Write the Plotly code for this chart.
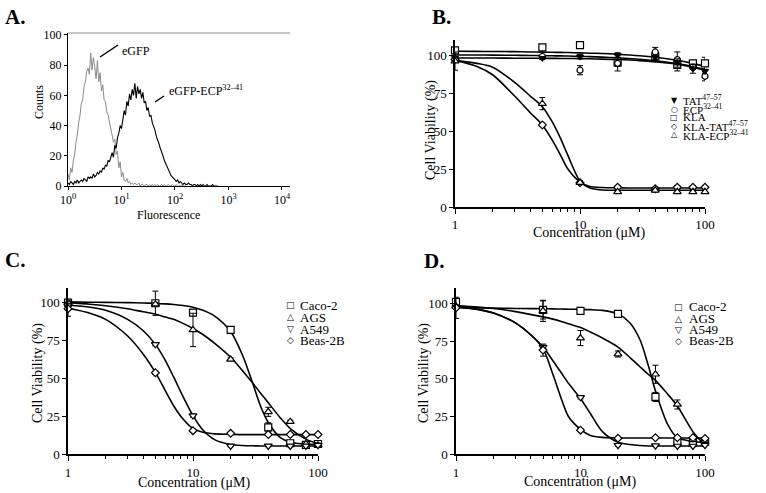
import plotly.graph_objects as go

W, H = 766, 493
def fx(x): return x / W
def fy(y): return 1 - y / H

SERIF = "Liberation Serif"
SYM = "DejaVu Sans"

# ---------------- Panel A : flow cytometry histograms ----------------
# counts per channel (channels evenly spaced on log10 scale, 40 per decade)
egfp_counts = [8, 4, 12, 9, 17, 21, 29, 34, 42, 47, 55, 57, 66, 69, 76, 78, 74, 88, 77, 85,
               79, 71, 83, 69, 75, 63, 67, 57, 56, 49, 47, 43, 38, 33, 29, 31, 21, 23, 12, 16,
               6, 9, 4, 3, 5, 2, 3, 1, 2, 1, 2, 1, 1, 2, 0, 1, 1, 0, 1, 1,
               0, 1, 0, 1, 0, 1, 0, 1, 0, 0, 1, 0, 1, 0, 0, 1, 0, 0, 1, 0,
               0, 1, 0, 0, 0, 1, 0, 0, 0]
ecp_counts = [2, 1, 3, 2, 1, 3, 2, 4, 2, 3, 4, 3, 5, 4, 3, 6, 5, 6, 5, 8,
              6, 7, 9, 8, 10, 9, 12, 11, 14, 13, 17, 16, 20, 22, 19, 27, 25, 32, 35, 40,
              38, 46, 50, 47, 56, 53, 61, 57, 64, 60, 68, 58, 66, 61, 64, 58, 62, 55, 56, 50,
              52, 46, 47, 42, 40, 37, 33, 31, 28, 25, 23, 20, 17, 15, 12, 11, 9, 7, 6, 5,
              4, 3, 4, 2, 3, 2, 1, 2, 1, 1, 2, 1, 1, 0, 1, 1, 0, 1, 0, 1,
              0, 1, 0, 0, 1, 0, 0, 0, 1, 0, 0, 0, 0]
egfp_channels = [10 ** (k / 40) for k in range(len(egfp_counts))]
ecp_channels = [10 ** (k / 40) for k in range(len(ecp_counts))]
a_xtickvals = [1, 10, 100, 1000, 10000]
a_xticktext = ["10<sup>0</sup>", "10<sup>1</sup>", "10<sup>2</sup>", "10<sup>3</sup>", "10<sup>4</sup>"]
a_ytickvals = [0, 20, 40, 60, 80, 100]

# ---------------- Panels B-D : viability ----------------
conc = [1, 5, 10, 20, 40, 60, 80, 100]
conc_tickvals = [1, 10, 100]
conc_minor = [2, 3, 4, 5, 6, 7, 8, 9, 20, 30, 40, 50, 60, 70, 80, 90]
viab_tickvals = [0, 25, 50, 75, 100]

# Panel B
B_tat = [98, 98, 99, 100, 98.5, 95.5, 91, 89.5]
B_tat_err = [1, 1, 1.5, 1.5, 1.5, 2, 3, 1.5]
B_ecp = [97, 99, 90, 94.5, 102, 97, 92, 86]
B_ecp_err = [1, 1, 3, 5, 3, 5, 1.5, 3]
B_kla = [103, 105, 106.5, 95, 99, 93.5, 94.5, 94.5]
B_kla_err = [1, 1, 1, 1, 1, 4, 1, 4]
B_klatat = [97, 54, 16, 13, 12, 13, 13, 13]
B_klatat_err = [1, 1, 1, 1, 1, 1, 1, 1]
B_klaecp = [96, 68, 16, 10, 11, 10, 10, 10]
B_klaecp_err = [6, 4, 1, 1, 1, 1, 1, 1]

fitx_B = [1, 1.5, 2, 3, 4, 5, 6, 7, 8, 10, 12, 15, 20, 30, 40, 60, 80, 100]
fitB_kla = [102.5, 102.4, 102.3, 102.2, 102.0, 101.9, 101.8, 101.7, 101.6, 101.4, 101.2, 101.0, 100.5, 99.5, 98.5, 96.5, 94.5, 92.5]
fitB_ecp = [100, 100, 99.9, 99.8, 99.7, 99.6, 99.5, 99.4, 99.3, 99.1, 98.9, 98.6, 98.2, 97.2, 96.2, 94.3, 92.3, 90.5]
fitB_tat = [98, 98, 98, 97.9, 97.9, 97.8, 97.8, 97.7, 97.7, 97.6, 97.5, 97.3, 97.0, 96.3, 95.5, 94.0, 92.0, 90.0]
fitB_klatat = [96.5, 92.5, 87, 73, 62, 54, 44, 34, 25, 16.5, 13.5, 12.8, 12.6, 12.5, 12.5, 12.5, 12.5, 12.5]
fitB_klaecp = [96.5, 94.5, 92, 82, 73, 66, 56, 45, 34, 17, 12.5, 11.2, 11, 11, 11, 11, 11, 11]

# Panel C
C_caco = [100, 99.6, 93.4, 82, 17.8, 7.3, 6.2, 6.8]
C_caco_err = [0.5, 8, 2, 1, 3, 1, 0.5, 0.5]
C_ags = [100, 99, 82, 62.6, 28, 21.5, 6.8, 6]
C_ags_err = [1, 1, 11, 1, 3, 1, 0.5, 0.5]
C_a549 = [98, 72.5, 25.5, 5.5, 5.5, 5.5, 5.5, 6]
C_a549_err = [1, 1, 1, 0.5, 0.5, 0.5, 0.5, 0.5]
C_beas = [96, 53.8, 15.6, 13.8, 13, 13, 13, 13]
C_beas_err = [5, 1, 1, 0.5, 0.5, 0.5, 0.5, 0.5]

fitx_CD = [1, 1.5, 2, 3, 4, 5, 6, 7, 8, 10, 12, 15, 20, 25, 30, 35, 40, 50, 60, 80, 100]
fitC_caco = [100.5, 100.3, 100.2, 100, 99.8, 99.5, 99.2, 98.8, 98.3, 97, 95, 91, 81, 65, 47, 31, 21, 11, 8, 6.7, 6.5]
fitC_ags = [100, 99, 98, 96, 94, 92.5, 90.5, 89, 87, 83, 79, 73, 64, 55, 47, 40, 34, 24, 17, 10, 7]
fitC_a549 = [98.5, 97, 95, 89, 81.5, 72.5, 62, 51, 41, 25.5, 16, 9.5, 6.5, 5.8, 5.6, 5.5, 5.5, 5.5, 5.5, 5.5, 5.5]
fitC_beas = [96.5, 93, 89, 78, 66, 54, 42, 32, 25, 17, 14.5, 13.5, 13.2, 13, 13, 13, 13, 13, 13, 13, 13]

# Panel D
D_caco = [101, 95.6, 95, 93, 38, 8.4, 7.7, 8.4]
D_caco_err = [2, 6, 1, 1, 3, 1, 1, 1]
D_ags = [98, 95, 77, 66.4, 53, 33, 9.5, 9]
D_ags_err = [1, 7, 5, 2, 6, 3, 1, 1]
D_a549 = [97, 71, 37.7, 6, 5.7, 5.5, 5.5, 6]
D_a549_err = [1, 1, 1, 0.5, 0.5, 0.5, 0.5, 0.5]
D_beas = [97, 69, 16, 10.6, 11, 11, 11, 10.5]
D_beas_err = [7, 4, 1, 0.5, 0.5, 0.5, 0.5, 0.5]

fitD_caco = [97.5, 97, 96.8, 96.6, 96.5, 96.4, 96.3, 96.2, 96.1, 96, 95.8, 95.3, 93, 87, 76, 59, 42, 20, 11, 8.5, 8]
fitD_ags = [98.5, 97.5, 96.5, 94.5, 92.5, 91, 89.5, 88, 86.5, 84, 81, 77, 71, 64, 58, 53, 49, 40, 32, 15, 6]
fitD_a549 = [97.5, 96, 93.5, 87, 79, 71, 62, 54, 47, 37, 27, 15, 8, 6.5, 5.8, 5.5, 5.5, 5.5, 5.5, 5.5, 5.5]
fitD_beas = [98, 96, 93.5, 87, 79, 70, 53, 37, 25, 16.5, 12.5, 11.2, 10.9, 10.8, 10.8, 10.8, 10.8, 10.8, 10.8, 10.8, 10.8]

fig = go.Figure()

# Panel A traces
fig.add_trace(go.Scatter(x=egfp_channels, y=egfp_counts, mode="lines",
                         line=dict(color="#8a8a8a", width=1), xaxis="x", yaxis="y",
                         showlegend=False, hoverinfo="skip"))
fig.add_trace(go.Scatter(x=ecp_channels, y=ecp_counts, mode="lines",
                         line=dict(color="black", width=1.1), xaxis="x", yaxis="y",
                         showlegend=False, hoverinfo="skip"))

def add_series(ax, ay, fitx, fity, y, err, symbol, size, fill="white"):
    fig.add_trace(go.Scatter(x=fitx, y=fity, mode="lines", xaxis=ax, yaxis=ay,
                             line=dict(color="black", width=1.6, shape="spline", smoothing=0.8),
                             showlegend=False, hoverinfo="skip"))
    fig.add_trace(go.Scatter(x=conc, y=y, mode="markers", xaxis=ax, yaxis=ay, cliponaxis=False,
                             marker=dict(symbol=symbol, size=size, color=fill,
                                         line=dict(color="black", width=1.2)),
                             error_y=dict(type="data", array=err, visible=True, color="black",
                                          thickness=1, width=3),
                             showlegend=False, hoverinfo="skip"))

# Panel B
add_series("x2", "y2", fitx_B, fitB_kla, B_kla, B_kla_err, "square", 7)
add_series("x2", "y2", fitx_B, fitB_ecp, B_ecp, B_ecp_err, "circle", 6)
add_series("x2", "y2", fitx_B, fitB_tat, B_tat, B_tat_err, "triangle-down", 6, "black")
add_series("x2", "y2", fitx_B, fitB_klatat, B_klatat, B_klatat_err, "diamond", 6)
add_series("x2", "y2", fitx_B, fitB_klaecp, B_klaecp, B_klaecp_err, "triangle-up", 7)

# Panel C
add_series("x3", "y3", fitx_CD, fitC_caco, C_caco, C_caco_err, "square", 7)
add_series("x3", "y3", fitx_CD, fitC_ags, C_ags, C_ags_err, "triangle-up", 7)
add_series("x3", "y3", fitx_CD, fitC_a549, C_a549, C_a549_err, "triangle-down", 7)
add_series("x3", "y3", fitx_CD, fitC_beas, C_beas, C_beas_err, "diamond", 6)

# Panel D
add_series("x4", "y4", fitx_CD, fitD_caco, D_caco, D_caco_err, "square", 7)
add_series("x4", "y4", fitx_CD, fitD_ags, D_ags, D_ags_err, "triangle-up", 7)
add_series("x4", "y4", fitx_CD, fitD_a549, D_a549, D_a549_err, "triangle-down", 7)
add_series("x4", "y4", fitx_CD, fitD_beas, D_beas, D_beas_err, "diamond", 6)

tickfont = dict(family=SERIF, size=13, color="black")

def conc_axis(x0, x1, anchor):
    return dict(domain=[fx(x0), fx(x1)], anchor=anchor, type="log", range=[0, 2],
                tickvals=conc_tickvals, ticktext=[str(v) for v in conc_tickvals],
                ticks="outside", ticklen=5, tickwidth=1.2, tickcolor="black",
                minor=dict(tickvals=conc_minor, ticks="outside", ticklen=3, tickwidth=1, tickcolor="black"),
                showline=True, linecolor="black", linewidth=1.5, showgrid=False, zeroline=False,
                tickfont=tickfont, fixedrange=True, automargin=False)

def viab_axis(y0, y1, anchor):
    return dict(domain=[fy(y0), fy(y1)], anchor=anchor, range=[0, 110],
                tickvals=viab_tickvals, ticks="outside", ticklen=4, tickwidth=1.2, tickcolor="black",
                showline=True, linecolor="black", linewidth=1.5, showgrid=False, zeroline=False,
                tickfont=tickfont, fixedrange=True, automargin=False)

fig.update_layout(
    width=W, height=H, margin=dict(l=0, r=0, t=0, b=0, autoexpand=False),
    paper_bgcolor="white", plot_bgcolor="rgba(0,0,0,0)", showlegend=False,
    xaxis=dict(domain=[fx(68), fx(290)], anchor="y", type="log", range=[0, 4.15],
               tickvals=a_xtickvals, ticktext=a_xticktext, ticks="outside", ticklen=3,
               tickcolor="black", showline=True, linecolor="black", linewidth=1,
               showgrid=False, zeroline=False, automargin=False,
               tickfont=dict(family=SERIF, size=12, color="black")),
    yaxis=dict(domain=[fy(186), fy(33)], anchor="x", range=[0, 101.3], tickvals=a_ytickvals,
               ticks="outside", ticklen=3, tickcolor="black", showline=True, linecolor="black",
               linewidth=1, showgrid=False, zeroline=False, automargin=False,
               tickfont=dict(family=SERIF, size=12, color="black")),
    xaxis2=conc_axis(455, 705, "y2"),
    yaxis2=viab_axis(207, 39.8, "x2"),
    xaxis3=conc_axis(68, 318, "y3"),
    yaxis3=viab_axis(454.3, 287.5, "x3"),
    xaxis4=conc_axis(456, 705, "y4"),
    yaxis4=viab_axis(454.3, 288.2, "x4"),
)

shapes = [
    dict(type="line", xref="paper", yref="paper", x0=fx(68), x1=fx(290), y0=fy(33), y1=fy(33),
         line=dict(color="#8a8a8a", width=1)),
    dict(type="line", xref="paper", yref="paper", x0=fx(100), x1=fx(118), y0=fy(57), y1=fy(45),
         line=dict(color="black", width=1.5)),
    dict(type="line", xref="paper", yref="paper", x0=fx(155), x1=fx(164), y0=fy(102), y1=fy(96),
         line=dict(color="black", width=1.5)),
]
fig.update_layout(shapes=shapes)

ann = []
def text(x, y, s, size, anchor="left", bold=False, angle=0, font=SERIF):
    ann.append(dict(xref="paper", yref="paper", x=fx(x), y=fy(y), text=("<b>%s</b>" % s) if bold else s,
                    showarrow=False, xanchor=anchor, yanchor="middle", textangle=angle,
                    font=dict(family=font, size=size, color="black")))

# panel letters
text(3, 17, "A.", 21, bold=True)
text(430, 17, "B.", 21, bold=True)
text(3, 260, "C.", 21, bold=True)
text(422, 261, "D.", 21, bold=True)

# panel A labels
text(39, 102, "Counts", 12, anchor="center", angle=-90)
text(168, 215, "Fluorescence", 12, anchor="center")
text(120, 51, "eGFP", 12)
text(167, 91, "eGFP-ECP<sup>32–41</sup>", 12)

# axis titles B-D
text(431, 130, "Cell Viability (%)", 14, anchor="center", angle=-90)
text(589, 233, "Concentration (μM)", 14, anchor="center")
text(38, 373, "Cell Viability (%)", 14, anchor="center", angle=-90)
text(194, 483, "Concentration (μM)", 14, anchor="center")
text(424, 373, "Cell Viability (%)", 14, anchor="center", angle=-90)
text(580, 482, "Concentration (μM)", 14, anchor="center")

# legends (text-based)
legB = [("▼", "TAT<sup>47–57</sup>"), ("○", "ECP<sup>32–41</sup>"), ("□", "KLA"),
        ("◇", "KLA-TAT<sup>47–57</sup>"), ("△", "KLA-ECP<sup>32–41</sup>")]
for (sym, lab), yy in zip(legB, [100.5, 109, 117.5, 126, 134.5]):
    text(674, yy, sym, 8, anchor="center", font=SYM)
    text(681, yy, lab, 11)

legCD = [("□", "Caco-2"), ("△", "AGS"), ("▽", "A549"), ("◇", "Beas-2B")]
for (sym, lab), yy in zip(legCD, [305, 317, 329, 340]):
    text(290, yy, sym, 9, anchor="center", font=SYM)
    text(298, yy, lab, 13)
for (sym, lab), yy in zip(legCD, [306.5, 318.5, 329.5, 340.5]):
    text(678, yy, sym, 9, anchor="center", font=SYM)
    text(687, yy, lab, 13)

fig.update_layout(annotations=ann)
fig.write_html("out.html", config={"displayModeBar": False},
               post_script="document.body.style.margin='0px';document.body.style.overflow='hidden';")
